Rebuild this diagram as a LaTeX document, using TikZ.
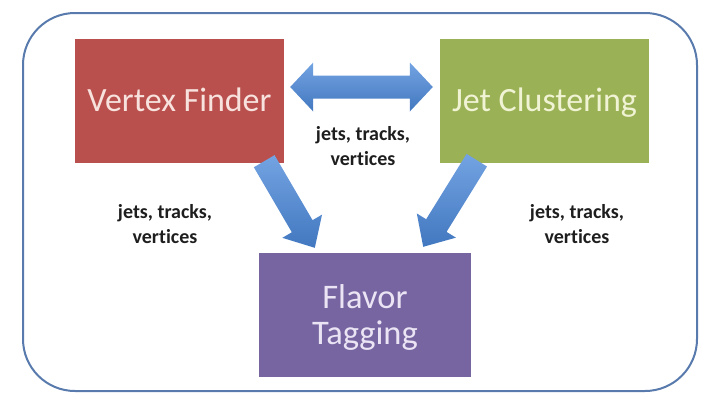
\documentclass[tikz,border=0pt]{standalone}
\usepackage{fontspec}
\setmainfont[Ligatures=NoCommon]{Carlito}
\usetikzlibrary{calc}
\definecolor{vfred}{RGB}{185,80,77}
\definecolor{jcgreen}{RGB}{155,177,86}
\definecolor{ftpurple}{RGB}{118,101,160}
\definecolor{vftext}{RGB}{247,226,222}
\definecolor{jctext}{RGB}{240,244,212}
\definecolor{fttext}{RGB}{234,228,244}
\definecolor{framecol}{RGB}{88,122,172}
\definecolor{arrtop}{RGB}{115,163,226}
\definecolor{arrbot}{RGB}{66,120,192}
\definecolor{lblgray}{RGB}{30,30,30}
\tikzset{
  box/.style={rectangle, minimum width=209pt, minimum height=124pt, inner sep=0pt},
  boxfont/.style={font=\fontsize{34}{38}\selectfont},
  lbl/.style={font=\fontsize{20}{25}\selectfont\bfseries, text=lblgray, align=center, inner sep=0pt},
  fatarrow/.style={top color=arrtop, bottom color=arrbot, draw=none},
  frame/.style={draw=framecol, line width=2pt, rounded corners=52pt}
}
\newcommand{\singlefat}[5]{%
  \coordinate (h) at ($(#2)!#5!(#1)$);
  \shade[fatarrow] ($(#1)!#3!90:(#2)$) -- ($(h)!#3!90:(#2)$) -- ($(h)!#4!90:(#2)$) -- (#2)
    -- ($(h)!#4!-90:(#2)$) -- ($(h)!#3!-90:(#2)$) -- ($(#1)!#3!-90:(#2)$) -- cycle;}
\newcommand{\doublefat}[5]{%
  \coordinate (h1) at ($(#1)!#5!(#2)$);
  \coordinate (h2) at ($(#2)!#5!(#1)$);
  \shade[fatarrow] (#1) -- ($(h1)!#4!90:(#2)$) -- ($(h1)!#3!90:(#2)$) -- ($(h2)!#3!-90:(#1)$)
    -- ($(h2)!#4!-90:(#1)$) -- (#2) -- ($(h2)!#4!90:(#1)$) -- ($(h2)!#3!90:(#1)$)
    -- ($(h1)!#3!-90:(#2)$) -- ($(h1)!#4!-90:(#2)$) -- cycle;}
\begin{document}
\begin{tikzpicture}[x=1pt,y=-1pt]
\useasboundingbox (0,0) rectangle (706,394);
\draw[frame] (23,13) rectangle (697,391);
\node[box, fill=vfred, text=vftext, boxfont, text height=21pt, text depth=0pt] (vf) at (179.5,101) {Vertex Finder};
\node[box, fill=jcgreen, text=jctext, boxfont, text height=21pt, text depth=0pt] (jc) at (544.5,101) {Jet Clustering};
\node[box, minimum width=212pt, fill=ftpurple, text=fttext, align=center, font=\fontsize{34.5}{36}\selectfont, text depth=0pt] (ft) at (365,315) {Flavor\\Tagging};
% arrow end points
\coordinate (dA) at ($(vf.east)+(6,-14)$);
\coordinate (dB) at ($(jc.west)+(-7,-14)$);
\coordinate (lT) at ($(vf.south east)+(-20,-2)$);
\coordinate (lH) at ($(ft.north west)+(56,-5)$);
\coordinate (rT) at ($(jc.south west)+(37,-3)$);
\coordinate (rH) at ($(ft.north east)+(-48,-6)$);
\doublefat{dA}{dB}{11.5pt}{24.5pt}{23pt}
\singlefat{lT}{lH}{12pt}{23pt}{25pt}
\singlefat{rT}{rH}{12pt}{23pt}{25pt}
% labels
\node[lbl] (l1) at (363,146) {jets, tracks,\\vertices};
\node[lbl] (l2) at (165,224) {jets, tracks,\\vertices};
\node[lbl] (l3) at (577,224) {jets, tracks,\\vertices};
\end{tikzpicture}
\end{document}
